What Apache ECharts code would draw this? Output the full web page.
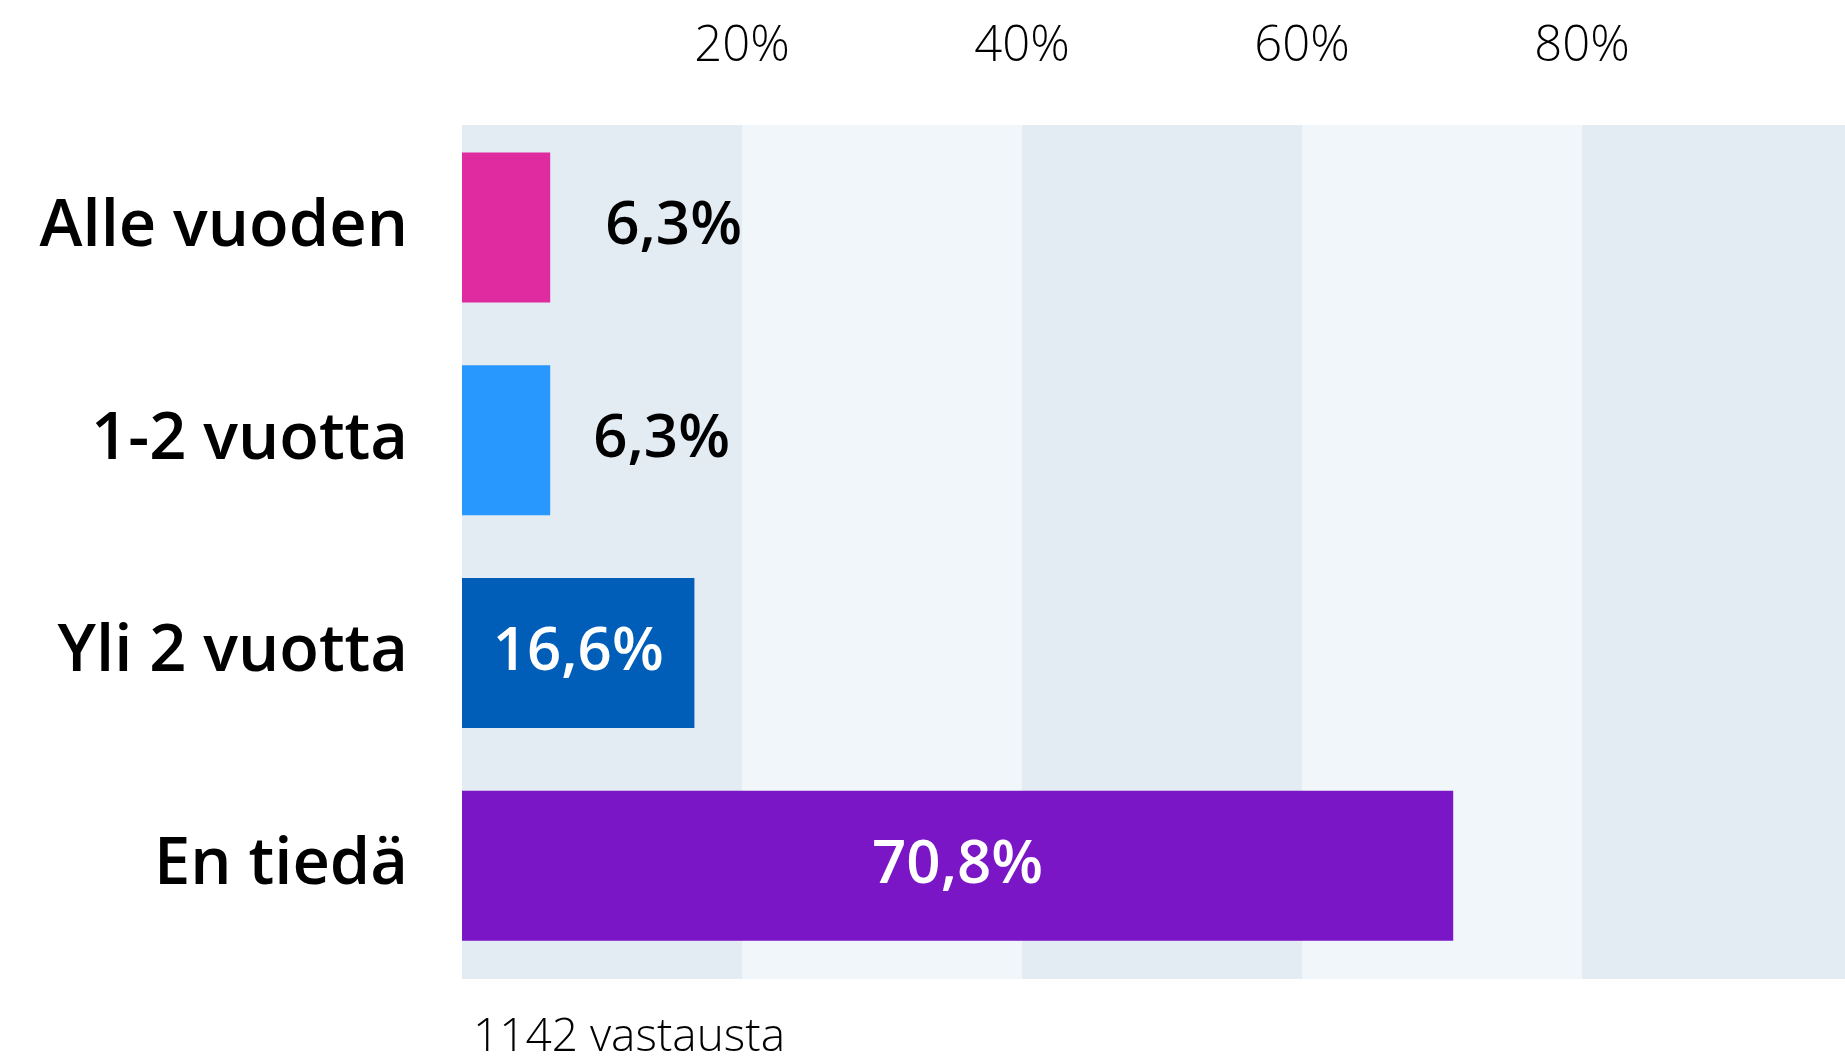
<!DOCTYPE html>
<html lang="fi">
<head>
    <meta charset="UTF-8">
    <title>Vastaukset</title>
    <style>
        html, body { margin: 0; padding: 0; background: #fff; }
    </style>
</head>
<body>
<div id="main" style="width: 1845px;height:1062px;"></div>
<script type="text/javascript" src="https://cdn.jsdelivr.net/npm/echarts@6/dist/echarts.min.js"></script>
<script type="text/javascript">
    // data
    var categories = ['Alle vuoden', '1-2 vuotta', 'Yli 2 vuotta', 'En tiedä'];
    var values = [6.3, 6.3, 16.6, 70.8];
    var barColors = ['#e02ba0', '#2898ff', '#005eb8', '#7a16c6'];
    var labelInside = [false, false, true, true];
    var labelGap = [55, 43, 0, 0];
    var tickValues = [20, 40, 60, 80];
    var footnote = '1142 vastausta';

    var font = 'Open Sans';

    function pct(v) {
        return String(v).replace('.', ',') + '%';
    }

    var barData = values.map(function (v, i) {
        return {
            value: v,
            itemStyle: {color: barColors[i]},
            label: labelInside[i] ? {
                position: 'inside',
                color: '#fff'
            } : {
                position: 'right',
                distance: labelGap[i],
                color: '#000'
            }
        };
    });

    var myChart = echarts.init(document.getElementById('main'));
    var option = {
        animation: false,
        title: {
            text: footnote,
            left: 468,
            top: 1010,
            textStyle: {fontFamily: font, fontWeight: 300, fontSize: 46, color: '#000'}
        },
        grid: [
            // background bands + top labels (100% sits just past the right edge)
            {left: 462, width: 1400, top: 125, bottom: 83, outerBoundsMode: 'none'},
            // bars
            {left: 462, width: 1400, top: 121, bottom: 90, outerBoundsMode: 'none'}
        ],
        xAxis: [{
            gridIndex: 0,
            type: 'value',
            position: 'top',
            min: 0,
            max: 100,
            interval: 20,
            axisLine: {show: false},
            axisTick: {show: false},
            splitLine: {show: false},
            splitArea: {show: true, areaStyle: {color: ['#e3ebf3', '#f1f6fa']}},
            axisLabel: {
                margin: 53,
                fontFamily: font,
                fontWeight: 300,
                fontSize: 49,
                color: '#000',
                formatter: function (v) {
                    return tickValues.indexOf(v) >= 0 ? v + '%' : '';
                }
            }
        }, {
            gridIndex: 1,
            type: 'value',
            min: 0,
            max: 100,
            show: false
        }],
        yAxis: [{
            gridIndex: 0,
            type: 'value',
            show: false
        }, {
            gridIndex: 1,
            type: 'category',
            inverse: true,
            data: categories,
            axisLine: {show: false},
            axisTick: {show: false},
            axisLabel: {
                margin: 54,
                fontFamily: font,
                fontWeight: 600,
                fontSize: 65,
                color: '#000'
            }
        }],
        series: [{
            type: 'bar',
            xAxisIndex: 1,
            yAxisIndex: 1,
            barWidth: 150,
            data: barData,
            label: {
                show: true,
                fontFamily: font,
                fontWeight: 600,
                fontSize: 60,
                formatter: function (p) { return pct(p.value); }
            }
        }]
    };
    myChart.setOption(option);
</script>
</body>
</html>
